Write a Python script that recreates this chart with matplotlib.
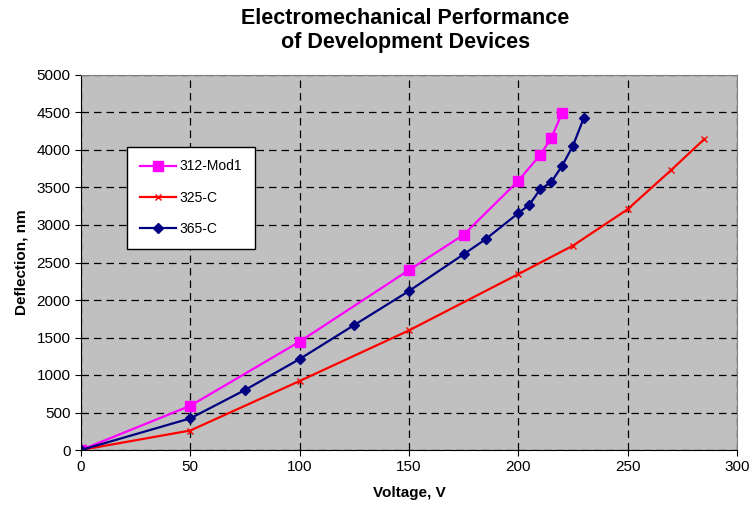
import matplotlib.pyplot as plt

plt.rcParams['font.family'] = ['Liberation Sans', 'DejaVu Sans']

# 312-Mod1
v_mod1 = [0, 50, 100, 150, 175, 200, 210, 215, 220]
d_mod1 = [0, 590, 1445, 2400, 2870, 3590, 3935, 4155, 4490]

# 325-C
v_325 = [0, 50, 100, 150, 200, 225, 250, 270, 285]
d_325 = [0, 260, 920, 1595, 2345, 2725, 3210, 3735, 4145]

# 365-C
v_365 = [0, 50, 75, 100, 125, 150, 175, 185, 200, 205, 210, 215, 220, 225, 230]
d_365 = [0, 422, 800, 1213, 1667, 2120, 2610, 2810, 3158, 3268, 3476, 3570, 3788, 4058, 4432]

fig = plt.figure(figsize=(7.51, 5.13), dpi=100)
ax = fig.add_axes([81/751, 63/513, 656/751, 375/513])
ax.set_facecolor('#C0C0C0')

ax.plot(v_mod1, d_mod1, color='#FF00FF', marker='s', markersize=7, linewidth=1.6, label='312-Mod1')
ax.plot(v_325, d_325, color='#FF0000', marker='x', markersize=5, markeredgewidth=1, linewidth=1.6, label='325-C')
ax.plot(v_365, d_365, color='#000080', marker='D', markersize=5, linewidth=1.6, label='365-C')

ax.set_xlim(0, 300)
ax.set_ylim(0, 5000)
ax.set_xticks(range(0, 301, 50))
ax.set_yticks(range(0, 5001, 500))
ax.grid(True, color='black', linestyle=(0, (6, 4)), linewidth=0.9)
ax.set_axisbelow(True)
ax.tick_params(labelsize=11, length=4, direction='out')
for s in ax.spines.values():
    s.set_color('#808080')
ax.spines['left'].set_color('black')
ax.spines['bottom'].set_color('black')

ax.set_xlabel('Voltage, V', fontsize=11, fontweight='bold', labelpad=8)
ax.set_ylabel('Deflection, nm', fontsize=11, fontweight='bold', labelpad=6)
fig.suptitle('Electromechanical Performance\nof Development Devices', fontsize=15.5, fontweight='bold', x=0.54, y=0.985)

leg = ax.legend(loc='upper left', bbox_to_anchor=(46/656, 303/375), fontsize=10,
                frameon=True, fancybox=False, edgecolor='black', facecolor='white',
                framealpha=1, borderpad=0.9, labelspacing=1.25, handlelength=2.6,
                handletextpad=0.3, borderaxespad=0)
leg.get_frame().set_linewidth(1.0)

fig.savefig('out.png', dpi=100)
plt.close(fig)
